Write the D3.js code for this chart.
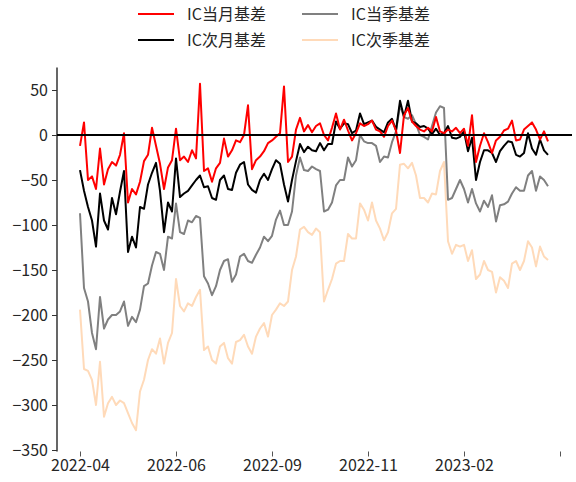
<!DOCTYPE html>
<html>
<head>
<meta charset="utf-8">
<script src="https://cdn.jsdelivr.net/npm/d3@7"></script>
<style>
  html, body { margin: 0; padding: 0; background: #fff; }
  svg { display: block; }
  text { font-family: "Noto Sans CJK SC", "Noto Sans", sans-serif; }
</style>
</head>
<body>
<svg id="chart" width="576" height="482"></svg>
<script>
// Tick labels on the (index-based) x axis, one every 24 observations
const xTickLabels = ["2022-04", "2022-06", "2022-09", "2022-11", "2023-02", ""];
const yTicks = [50, 0, -50, -100, -150, -200, -250, -300, -350];

const seriesNames = ["IC当月基差", "IC次月基差", "IC当季基差", "IC次季基差"];

const curMonth = [-12,14,-50,-46,-60,-15,-55,-38,-30,-34,-22,2,-75,-60,-66,-52,-29,-22,8,-12,
  -32,-60,-36,-28,7,-28,-24,-30,-17,-26,57,-40,-37,-52,-37,-31,-4,-24,-17,-6,
  -8,0,33,-38,-28,-24,-18,-9,-6,-2,2,54,-30,-24,6,19,4,11,3,10,
  13,0,-6,8,24,6,17,5,-6,2,13,10,12,16,6,4,-2,10,16,5,
  -20,22,30,15,10,6,4,8,4,20,4,2,6,4,8,2,7,-12,22,-30,
  -12,2,-8,-20,-6,-2,5,7,16,-6,-5,6,10,14,6,-5,4,-7];

const nextMonth = [-39,-62,-80,-95,-124,-65,-95,-105,-70,-88,-63,-40,-130,-113,-125,-80,-82,-55,-42,-31,
  -62,-108,-75,-85,-26,-69,-65,-62,-56,-50,-45,-58,-57,-70,-72,-50,-45,-60,-61,-42,
  -33,-30,-55,-61,-64,-50,-43,-50,-38,-28,-32,-55,-74,-50,-29,-10,-19,-13,-17,-18,
  -9,-17,-10,-10,15,7,13,12,2,5,24,12,14,16,9,6,3,14,18,5,
  38,20,38,15,13,9,10,7,1,7,0,2,10,-3,-4,-2,4,-18,-3,-50,
  -30,-17,-17,-20,-30,-18,-12,-7,-8,-22,-24,-20,2,-15,-22,-5,-17,-22];

const curQuarter = [-87,-170,-185,-220,-238,-180,-215,-205,-200,-200,-196,-185,-212,-202,-208,-194,-168,-165,-145,-130,
  -132,-150,-113,-115,-76,-108,-110,-95,-97,-90,-92,-157,-165,-178,-168,-150,-140,-138,-163,-155,
  -135,-132,-140,-142,-133,-125,-113,-118,-112,-94,-84,-100,-100,-85,-45,-25,-39,-40,-35,-38,
  -40,-85,-83,-75,-56,-50,-50,-25,-35,-28,0,-7,-9,-9,-12,-30,-24,-25,-8,4,
  33,20,18,22,12,0,-2,-5,10,25,32,30,-72,-70,-60,-50,-60,-75,-60,-76,
  -85,-73,-80,-67,-96,-78,-77,-74,-65,-58,-62,-62,-45,-40,-62,-46,-50,-57];

const nextQuarter = [-194,-260,-262,-272,-300,-252,-313,-298,-291,-300,-295,-298,-309,-320,-328,-285,-272,-250,-238,-243,
  -226,-254,-231,-220,-160,-190,-196,-187,-190,-180,-172,-239,-235,-250,-254,-235,-231,-248,-254,-230,
  -228,-222,-235,-243,-224,-215,-209,-224,-200,-194,-187,-190,-185,-150,-135,-105,-102,-108,-111,-104,
  -108,-185,-172,-160,-143,-140,-140,-110,-115,-115,-76,-83,-95,-75,-95,-104,-117,-108,-87,-82,
  -33,-32,-37,-31,-45,-70,-70,-75,-65,-66,-40,-30,-118,-132,-122,-124,-122,-140,-128,-160,
  -155,-140,-150,-152,-175,-158,-162,-170,-143,-140,-150,-140,-118,-125,-146,-124,-135,-139];

const seriesValues = [curMonth, nextMonth, curQuarter, nextQuarter];
const colors = ["#ff0000", "#000000", "#808080", "#ffdab9"];

const svg = d3.select("#chart");
const plotLeft = 57, plotRight = 572, plotTop = 67.5, plotBottom = 450;
const tickStep = 24;

const x = d3.scaleLinear().domain([-5.75, 123]).range([plotLeft, plotRight]);
const y = d3.scaleLinear().domain([-350, 75]).range([plotBottom, plotTop]);

// Draw order: peach, grey, black, red (red on top)
const drawOrder = [3, 2, 1, 0];
const line = d3.line().x((d, i) => x(i)).y(d => y(d));
drawOrder.forEach(k => {
  svg.append("path")
    .datum(seriesValues[k])
    .attr("fill", "none")
    .attr("stroke", colors[k])
    .attr("stroke-width", 2)
    .attr("stroke-linejoin", "round")
    .attr("d", line);
});

// zero line
svg.append("line")
  .attr("x1", plotLeft).attr("x2", plotRight)
  .attr("y1", y(0)).attr("y2", y(0))
  .attr("stroke", "#000").attr("stroke-width", 1.8);

// y axis
const yAxis = d3.axisLeft(y).tickValues(yTicks).tickSize(5).tickPadding(4).tickFormat(d3.format("d"));
const gy = svg.append("g").attr("transform", `translate(${plotLeft},0)`).call(yAxis);
gy.select(".domain").attr("d", `M0,${plotTop}V${plotBottom + 1.5}`).attr("stroke", "#000").attr("stroke-width", 1.2);
gy.selectAll(".tick line").attr("stroke", "#333");
gy.selectAll(".tick text")
  .attr("font-size", 16).attr("fill", "#262626")
  .style("font-family", "'Noto Sans CJK SC', sans-serif");

// x axis (index-based, no spine)
const xTickVals = xTickLabels.map((d, i) => i * tickStep);
const xAxis = d3.axisBottom(x).tickValues(xTickVals).tickSize(5).tickPadding(3)
  .tickFormat((d, i) => xTickLabels[i]);
const gx = svg.append("g").attr("transform", `translate(0,${plotBottom + 1.5})`).call(xAxis);
gx.select(".domain").remove();
gx.selectAll(".tick line").attr("stroke", "#555");
gx.selectAll(".tick text")
  .attr("font-size", 16).attr("fill", "#262626")
  .style("font-family", "'Noto Sans CJK SC', sans-serif");

// legend: 2 columns x 2 rows
const legendPos = [
  {lx: 138, ly: 14}, {lx: 138, ly: 40}, {lx: 302, ly: 14}, {lx: 302, ly: 40}
];
seriesNames.forEach((name, k) => {
  const p = legendPos[k];
  svg.append("line")
    .attr("x1", p.lx).attr("x2", p.lx + 36)
    .attr("y1", p.ly).attr("y2", p.ly)
    .attr("stroke", colors[k]).attr("stroke-width", 2);
  svg.append("text")
    .attr("x", p.lx + 49).attr("y", p.ly)
    .attr("dy", "0.35em")
    .attr("font-size", 16).attr("fill", "#262626")
    .text(name);
});
</script>
</body>
</html>
